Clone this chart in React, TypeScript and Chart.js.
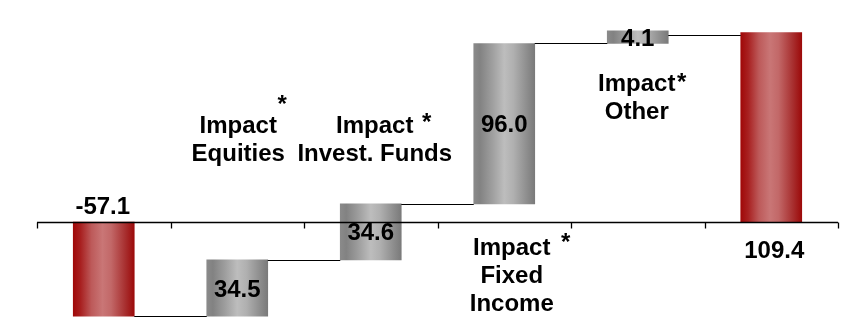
import React, { useEffect, useRef } from 'react';
import { Chart, registerables } from 'chart.js';

Chart.register(...registerables);

// ---- data ----
const categories = ['Start', 'Impact Equities', 'Impact Invest. Funds', 'Impact Fixed Income', 'Impact Other', 'End'];
const barStart = [0, -57.1, -23.0, 11.0, 108.2, 0];
const barEnd = [-57.1, -23.0, 11.0, 108.2, 115.8, 114.8];
const valueLabels = ['-57.1', '34.5', '34.6', '96.0', '4.1', '109.4'];
const connectorLevels = [-57.1, -23.0, 11.0, 108.2, 113.3];
const barKinds = ['total', 'change', 'change', 'change', 'change', 'total'];
const categoryLines: string[][] = [[], ['Impact', 'Equities'], ['Impact', 'Invest. Funds'], ['Impact', 'Fixed', 'Income'], ['Impact', 'Other'], []];

// ---- layout / style (not data) ----
const FONT = 'bold 24px "Liberation Sans", Arial, Helvetica, sans-serif';
const BAR_W = 61;
const LINE_H = 28;
type ValPlace = { mode: 'above' | 'below' | 'inside'; dx?: number; dy?: number };
const valuePlacement: ValPlace[] = [
  { mode: 'above', dx: -1, dy: -8 },
  { mode: 'inside' },
  { mode: 'inside' },
  { mode: 'inside' },
  { mode: 'inside' },
  { mode: 'below', dx: 3, dy: 36 },
];
type LblPlace = { dx: number; y0: number; star: { dx: number; dy: number } } | null;
const labelPlacement: LblPlace[] = [
  null,
  { dx: 1, y0: -89, star: { dx: 45, dy: -110 } },
  { dx: 4, y0: -89, star: { dx: 56, dy: -92 } },
  { dx: 7.5, y0: 33, star: { dx: 61.5, dy: 28 } },
  { dx: -1, y0: -131, star: { dx: 44, dy: -132 } },
  null,
];

function makeGradient(ctx: CanvasRenderingContext2D, x0: number, x1: number, kind: string) {
  const g = ctx.createLinearGradient(x0, 0, x1, 0);
  if (kind === 'total') {
    g.addColorStop(0, '#a00808');
    g.addColorStop(0.12, '#a82020');
    g.addColorStop(0.3, '#bd5a5a');
    g.addColorStop(0.48, '#c97676');
    g.addColorStop(0.62, '#c26868');
    g.addColorStop(0.85, '#a83030');
    g.addColorStop(1, '#9c0a0a');
  } else {
    g.addColorStop(0, '#8a8a8a');
    g.addColorStop(0.1, '#828282');
    g.addColorStop(0.3, '#9e9e9e');
    g.addColorStop(0.5, '#bdbdbd');
    g.addColorStop(0.65, '#b0b0b0');
    g.addColorStop(0.88, '#8c8c8c');
    g.addColorStop(1, '#7a7a7a');
  }
  return g;
}

const waterfallPlugin = {
  id: 'waterfallDecor',
  afterDatasetsDraw(chart: any) {
    const ctx: CanvasRenderingContext2D = chart.ctx;
    const xs = chart.scales.x;
    const ys = chart.scales.y;
    const area = chart.chartArea;
    const zeroY = ys.getPixelForValue(0);
    const n = categories.length;
    const catW = (area.right - area.left) / n;
    ctx.save();
    // connectors
    ctx.strokeStyle = '#000';
    ctx.lineWidth = 1.2;
    for (let i = 0; i < connectorLevels.length; i++) {
      const y = Math.round(ys.getPixelForValue(connectorLevels[i])) + 0.5;
      const xa = xs.getPixelForValue(i) + BAR_W / 2;
      const xb = xs.getPixelForValue(i + 1) - BAR_W / 2;
      ctx.beginPath();
      ctx.moveTo(xa, y);
      ctx.lineTo(xb, y);
      ctx.stroke();
    }
    // axis line at zero and ticks at category boundaries
    const zy = Math.round(zeroY) + 0.5;
    ctx.lineWidth = 1.3;
    ctx.beginPath();
    ctx.moveTo(area.left, zy);
    ctx.lineTo(area.right, zy);
    ctx.stroke();
    for (let k = 0; k <= n; k++) {
      const x = Math.round(area.left + k * catW) + 0.5;
      ctx.beginPath();
      ctx.moveTo(x, zy);
      ctx.lineTo(x, zy + 6);
      ctx.stroke();
    }
    // value labels
    ctx.fillStyle = '#000';
    ctx.font = FONT;
    ctx.textAlign = 'center';
    ctx.textBaseline = 'alphabetic';
    for (let i = 0; i < n; i++) {
      const cx = xs.getPixelForValue(i);
      const p = valuePlacement[i];
      if (p.mode === 'inside') {
        const mid = (ys.getPixelForValue(barStart[i]) + ys.getPixelForValue(barEnd[i])) / 2;
        ctx.fillText(valueLabels[i], cx, mid + 8.6);
      } else {
        ctx.fillText(valueLabels[i], cx + (p.dx || 0), zeroY + (p.dy || 0));
      }
    }
    // category labels
    for (let i = 0; i < n; i++) {
      const lp = labelPlacement[i];
      if (!lp) continue;
      const cx = xs.getPixelForValue(i);
      const lines = categoryLines[i];
      for (let j = 0; j < lines.length; j++) {
        ctx.fillText(lines[j], cx + lp.dx, zeroY + lp.y0 + j * LINE_H);
      }
      ctx.fillText('*', cx + lp.star.dx, zeroY + lp.star.dy);
    }
    ctx.restore();
  },
};

export default function App() {
  const ref = useRef<HTMLCanvasElement | null>(null);
  useEffect(() => {
    if (!ref.current) return;
    const chart = new Chart(ref.current, {
      type: 'bar',
      data: {
        labels: categories,
        datasets: [
          {
            data: barStart.map((s, i) => [s, barEnd[i]]) as any,
            backgroundColor: (c: any) => {
              const xs = c.chart.scales && c.chart.scales.x;
              if (!xs || c.dataIndex === undefined) return '#999';
              const cx = xs.getPixelForValue(c.dataIndex);
              if (!isFinite(cx)) return barKinds[c.dataIndex] === 'total' ? '#b03c3c' : '#a0a0a0';
              return makeGradient(c.chart.ctx, cx - BAR_W / 2, cx + BAR_W / 2, barKinds[c.dataIndex]);
            },
            borderWidth: 0,
            barThickness: BAR_W,
          },
        ],
      },
      options: {
        responsive: false,
        animation: false,
        layout: { padding: { left: 29, right: 7, top: 0, bottom: 0 } },
        plugins: { legend: { display: false }, tooltip: { enabled: false } },
        scales: {
          x: { display: false, offset: true, grid: { display: false } },
          y: { display: false, min: -57.6, max: 129.7, grid: { display: false } },
        },
      },
      plugins: [waterfallPlugin],
    });
    chart.update();
    return () => chart.destroy();
  }, []);
  return <canvas ref={ref} width={837} height={309} style={{ display: 'block' }} />;
}
